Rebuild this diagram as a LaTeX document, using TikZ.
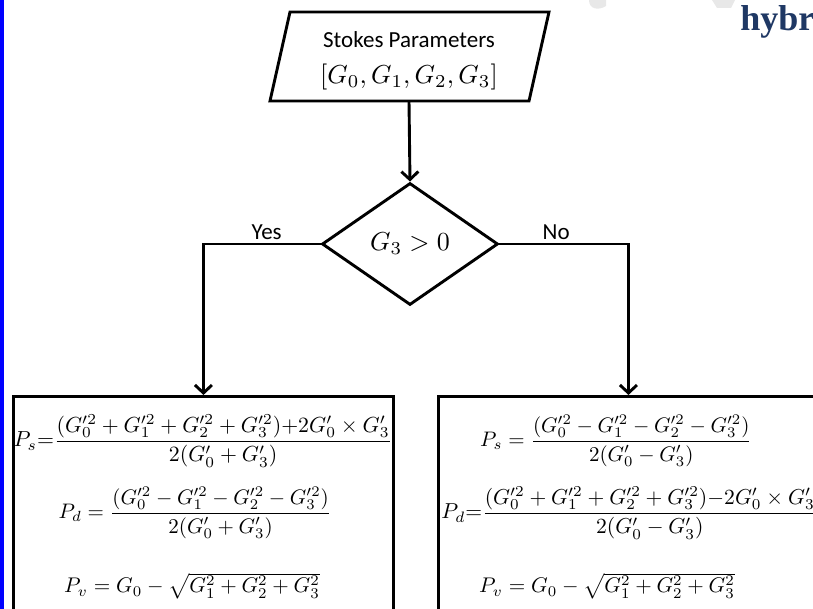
\documentclass[tikz,border=0pt]{standalone}
\usepackage{amsmath}
\usepackage{graphicx}
\usepackage{fontspec}
\newfontfamily\carlito{Carlito}
\newfontfamily\libserif{Liberation Serif}
\usetikzlibrary{shapes.geometric,arrows.meta}
\definecolor{navy}{HTML}{1F3864}
\begin{document}
\begin{tikzpicture}[x=1pt,y=1pt,line width=2.9pt,
  lbl/.style={font=\carlito\fontsize{23}{27}\selectfont, inner sep=2pt},
  eq/.style={inner sep=0pt},
  arr/.style={-{Straight Barb[length=8pt,width=17pt]}},
  boxst/.style={draw, minimum width=380pt, minimum height=260pt, anchor=north west, inner sep=0pt}]
\useasboundingbox (0,0) rectangle (813,609);
\clip (0,0) rectangle (813,609);
% faint background marks
\fill[black!9] (589,609) .. controls (589,600) and (598,598) .. (606,603) -- (606,609) -- cycle;
\fill[black!9] (712,609) -- (717,601) -- (731,601) -- (735,609) -- cycle;
\fill[blue] (0,0) rectangle (3.5,609);
% input parallelogram
\coordinate (p1) at (290,597);
\coordinate (p2) at (549,597);
\coordinate (p3) at (529,508);
\coordinate (p4) at (270,508);
\draw[line join=miter] (p1) -- (p2) -- (p3) -- (p4) -- cycle;
\node[lbl] (stk) at (409,569) {Stokes Parameters};
\node[eq] (gv) at (409,532) {\scalebox{2.6}{$[G_0,G_1,G_2,G_3]$}};
\coordinate (inb) at (409,508);
% decision
\node[diamond, draw, minimum width=176pt, minimum height=122pt, inner sep=0pt] (dec) at (410,365) {\scalebox{2.6}{$G_3>0$}};
% result boxes
\node[boxst] (lbox) at (12,214) {};
\node[boxst] (rbox) at (437,214) {};
% connectors
\draw[arr] (inb) -- (dec.north);
\draw[arr] (dec.west) -| node[lbl, above, pos=0.23, yshift=1pt] (yes) {Yes} (lbox.north);
\draw[arr] (dec.east) -| node[lbl, above, pos=0.22, yshift=1pt] (no) {No} (rbox.north);
% equations, left
\node[eq] (lps) at (203,168) {\scalebox{2.18}{$P_s{=}\dfrac{(G_0'^2+G_1'^2+G_2'^2+G_3'^2){+}2G_0'\times G_3'}{2(G_0'+G_3')}$}};
\node[eq] (lpd) at (195,96) {\scalebox{2.1}{$P_d = \dfrac{(G_0'^2-G_1'^2-G_2'^2-G_3'^2)}{2(G_0'+G_3')}$}};
\node[eq, anchor=base] (lpv) at (192,16) {\scalebox{2.12}{$P_v = G_0 - \sqrt{G_1^2+G_2^2+G_3^2}$}};
% equations, right
\node[eq] (rps) at (616,168) {\scalebox{2.1}{$P_s = \dfrac{(G_0'^2-G_1'^2-G_2'^2-G_3'^2)}{2(G_0'-G_3')}$}};
\node[eq, anchor=west] (rpd) at (440,96) {\scalebox{2.16}{$P_d{=}\dfrac{(G_0'^2+G_1'^2+G_2'^2+G_3'^2){-}2G_0'\times G_3'}{2(G_0'-G_3')}$}};
\node[eq, anchor=base] (rpv) at (607,16) {\scalebox{2.12}{$P_v = G_0 - \sqrt{G_1^2+G_2^2+G_3^2}$}};
% title fragment
\node[font=\libserif\bfseries\fontsize{36}{40}\selectfont, text=navy, anchor=base west, inner sep=0pt] (hyb) at (739,578) {hybr};
\end{tikzpicture}
\end{document}
